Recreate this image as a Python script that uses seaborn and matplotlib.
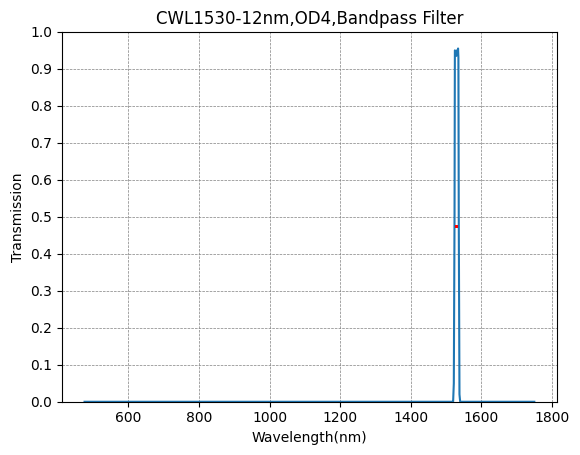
import matplotlib
matplotlib.use("Agg")
import matplotlib.pyplot as plt
import seaborn as sns
import pandas as pd

wavelength = [476, 1000, 1516, 1518, 1520, 1522, 1524, 1525, 1527, 1529, 1531, 1533, 1534, 1535, 1536, 1538, 1540, 1750]
transmission = [0.0, 0.0, 0.0, 0.0, 0.0, 0.05, 0.5, 0.95, 0.945, 0.935, 0.95, 0.94, 0.955, 0.93, 0.5, 0.02, 0.0, 0.0]
cwl_point_x = [1530]
cwl_point_y = [0.475]
title = "CWL1530-12nm,OD4,Bandpass Filter"

df = pd.DataFrame({"Wavelength": wavelength, "Transmission": transmission})

fig, ax = plt.subplots(figsize=(5.8, 4.55), dpi=100)
sns.lineplot(data=df, x="Wavelength", y="Transmission", ax=ax, color="#1f77b4", linewidth=1.5)
sns.scatterplot(x=cwl_point_x, y=cwl_point_y, ax=ax, color="red", marker="s", s=5, edgecolor="none", zorder=5)
ax.set_ylim(0, 1)
ax.set_yticks([i / 10 for i in range(11)])
ax.set_xlabel("Wavelength(nm)")
ax.set_ylabel("Transmission")
ax.set_title(title)
ax.grid(True, linestyle="--", color="gray", linewidth=0.5)
fig.subplots_adjust(left=0.107, right=0.96, top=0.93, bottom=0.117)
fig.savefig("out.png", dpi=100)
